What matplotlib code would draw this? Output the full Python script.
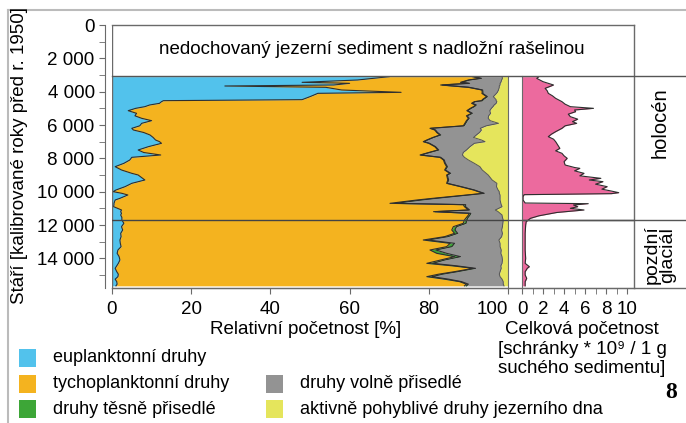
import matplotlib.pyplot as plt
import matplotlib.transforms as mtransforms
from matplotlib.patches import Rectangle
from matplotlib.ticker import MultipleLocator, FuncFormatter

plt.rcParams['font.family'] = ['Liberation Sans', 'DejaVu Sans']

# stáří vzorků [kal. roky BP] pro relativní početnost
vek = [3100, 3200, 3300, 3440, 3500, 3600, 3660, 3740, 3900, 4040,
       4100, 4300, 4480, 4540, 4600, 4700, 4800, 4900, 5000, 5140,
       5300, 5450, 5600, 5740, 5900, 6050, 6200, 6300, 6450, 6600,
       6750, 6900, 7000, 7100, 7300, 7500, 7650, 7800, 7940, 8100,
       8300, 8500, 8700, 8900, 9000, 9300, 9500, 9700, 9900, 10000,
       10100, 10200, 10400, 10500, 10700, 10780, 10900, 11100, 11200, 11300,
       11400, 11550, 11700, 11900, 12100, 12300, 12500, 12700, 12900, 13100,
       13300, 13500, 13700, 13900, 14100, 14300, 14450, 14600, 14800, 14950,
       15100, 15250, 15400, 15550, 15650]

# kumulativní hranice skupin [%]
hr_eu = [70, 66, 62, 48, 60, 56, 28.5, 54, 58, 73,
         52, 50, 48, 13, 12.5, 12, 9.5, 8.3, 6, 4.1,
         6.2, 5.8, 7.5, 10, 7.5, 7, 5, 5.4, 8, 9.6,
         10.4, 11, 12, 12.5, 9.2, 6.6, 8, 12.3, 5, 4.5,
         3, 0.8, 2.4, 5, 6.6, 8.3, 5, 3.3, 1, 0.3,
         2.5, 4, 2, 0.8, 0.5, 0.5, 0.4, 2.4, 2.2, 2.4,
         2.2, 2.5, 2.5, 3, 2.4, 2.7, 2.2, 2.3, 2, 2.1,
         2.3, 1.5, 1.3, 1.8, 2, 1.6, 1.2, 0.8, 1.2, 1.6,
         1.5, 0.8, 1.2, 1.3, 1]
hr_tycho = [91, 93, 90, 88, 90, 83, 86, 90, 93.4, 93.5,
            93.4, 94.6, 93.5, 93.4, 91.5, 90.8, 91.8, 91.3, 90.5, 89.6,
            90.8, 89.5, 90, 89.5, 89.1, 88.7, 80.3, 81.5, 82, 82.8,
            81, 79.5, 78.6, 80, 81.5, 82.3, 80, 77.8, 82.8, 83.7,
            84, 84.5, 84, 85.3, 84.5, 84.8, 84.5, 88, 91.3, 92.5,
            93.8, 89.6, 81, 77, 70.2, 88.7, 89, 90, 81.2, 90.2,
            90, 89.5, 89, 88.7, 86.2, 85.8, 86.5, 84, 78.6, 85.4,
            84.5, 80.3, 82, 86.5, 83, 79.5, 86, 91.2, 86.5, 82.5,
            79.5, 84, 87.8, 89.5, 89]
hr_tesne = [91.5, 93.3, 90.3, 88.3, 90.3, 83.4, 86.3, 90.2, 93.6, 93.7,
            93.6, 94.8, 93.7, 93.6, 91.7, 91.0, 92.0, 91.5, 90.7, 89.8,
            91.0, 89.7, 90.2, 89.7, 89.3, 88.9, 80.5, 81.7, 82.2, 83.0,
            81.2, 79.7, 78.8, 80.2, 81.7, 82.5, 80.2, 78.0, 83.0, 83.9,
            84.2, 84.7, 84.2, 85.5, 84.7, 85.0, 84.7, 88.2, 91.5, 92.7,
            94.0, 90.1, 82.0, 78.2, 71.5, 89.3, 89.3, 90.3, 81.6, 90.6,
            90.4, 89.9, 89.6, 89.4, 87.0, 86.6, 87.3, 84.8, 79.8, 86.5,
            85.8, 81.8, 84.5, 88.0, 84.0, 81.0, 87.0, 91.8, 87.3, 83.5,
            80.8, 85.0, 88.3, 90.0, 89.5]
hr_volne = [98.5, 98.6, 98.4, 98.2, 98.0, 98.0, 97.8, 97.8, 97.6, 97.3,
            97.1, 96.3, 97.0, 97.0, 97.2, 97.0, 96.5, 96.2, 95.8, 95.4,
            95.6, 95.1, 95.0, 95.5, 97.6, 94.5, 93.0, 93.3, 92.8, 92.0,
            91.3, 93.3, 94.2, 91.5, 90.4, 89.5, 88.7, 88.5, 89.0, 90.0,
            91.5, 92.9, 93.5, 94.5, 95.0, 96.0, 97.2, 97.1, 97.5, 97.8,
            97.8, 98.0, 98.0, 98.0, 98.2, 98.3, 98.5, 96.8, 97.5, 98.0,
            98.5, 98.6, 98.8, 98.7, 98.6, 98.4, 98.6, 98.4, 97.7, 98.0,
            98.0, 98.3, 98.2, 98.5, 98.6, 98.5, 98.2, 98.3, 98.0, 97.8,
            98.0, 98.5, 98.8, 98.8, 99.0]

# celková početnost [schránky * 10^9 / 1 g]
vek_celk = [3100, 3200, 3300, 3400, 3500, 3600, 3700, 3800, 3950, 4100,
            4250, 4400, 4600, 4750, 4900, 5000, 5100, 5200, 5350, 5500,
            5650, 5800, 5900, 6050, 6200, 6400, 6550, 6700, 6850, 7000,
            7200, 7400, 7550, 7700, 7850, 8000, 8200, 8400, 8550, 8600,
            8750, 8900, 9050, 9200, 9300, 9400, 9550, 9700, 9850, 9950,
            10060, 10120, 10180, 10300, 10500, 10680, 10720, 10800, 10900, 11000,
            11100, 11250, 11450, 11600, 11800, 12000, 12500, 13000, 13500, 14000,
            14300, 14500, 14600, 14800, 15000, 15200, 15400, 15650]
celk = [1.6, 1.4, 1.7, 2.0, 2.5, 3.0, 2.6, 2.2, 2.4, 2.5,
        2.9, 3.2, 3.8, 4.1, 4.6, 6.8, 5.0, 5.1, 4.4, 4.6,
        5.3, 4.8, 5.2, 4.1, 3.8, 3.2, 2.8, 2.5, 3.0, 3.2,
        3.4, 3.6, 3.2, 3.8, 4.0, 4.3, 4.0, 4.1, 5.0, 5.5,
        5.0, 5.9, 5.5, 7.5, 6.4, 7.7, 7.0, 8.1, 7.6, 8.4,
        9.2, 8.5, 0.2, 0.1, 0.1, 0.3, 6.3, 4.9, 5.3, 4.6,
        5.9, 3.3, 1.6, 0.8, 0.4, 0.35, 0.3, 0.3, 0.3, 0.35,
        0.3, 0.7, 0.5, 0.3, 0.3, 0.45, 0.3, 0.3]

hranice_zachovani = 3060   # nedochovaný sediment nad touto hranicí
hranice_holocen = 11700
vek_max = 15780

nazvy = ['euplanktonní druhy', 'tychoplanktonní druhy', 'druhy těsně přisedlé',
         'druhy volně přisedlé', 'aktivně pohyblivé druhy jezerního dna']
barvy = ['#52C2EC', '#F4B31F', '#3DA637', '#939393', '#E5E55C']
ruzova = '#EC6A9E'
obrys = '#2e2e2e'
seda = '#6a6a6a'
fs = 13.5

W, H = 686, 423
fig = plt.figure(figsize=(W / 100, H / 100), dpi=100)


def box(x0, y0, x1, y1):
    return [x0 / W, 1 - y1 / H, (x1 - x0) / W, (y1 - y0) / H]


# --- relativní početnost ---
ax = fig.add_axes(box(112, 25, 508, 288))
hranice = [[0] * len(vek), hr_eu, hr_tycho, hr_tesne, hr_volne, [100] * len(vek)]
for i in range(5):
    ax.fill_betweenx(vek, hranice[i], hranice[i + 1], color=barvy[i], lw=0)
for h in [hr_eu, hr_tycho, hr_tesne]:
    ax.plot(h, vek, color=obrys, lw=0.8)
ax.plot(hr_volne, vek, color='#555555', lw=0.7)
ax.set_xlim(0, 100)
ax.set_ylim(vek_max, 0)
ax.axvline(0, color=seda, lw=1)
ax.axhline(hranice_holocen, color='#444444', lw=1)
ax.spines['top'].set_visible(False)
ax.spines['left'].set_position(('outward', 5))
ax.spines['right'].set_bounds(hranice_zachovani, vek_max)
for s in ax.spines.values():
    s.set_color(seda)
ax.set_xticks([0, 20, 40, 60, 80, 100])
ax.yaxis.set_major_locator(MultipleLocator(2000))
ax.yaxis.set_minor_locator(MultipleLocator(1000))
ax.yaxis.set_major_formatter(FuncFormatter(lambda v, p: f'{int(v):,}'.replace(',', ' ')))
ax.tick_params(which='both', direction='out', length=4, color=seda, labelsize=fs)
ax.tick_params(axis='x', pad=5)
ax.get_xticklabels()[-1].set_horizontalalignment('right')
ax.get_xticklabels()[-1].set_x(101.5)

# --- celková početnost ---
ax2 = fig.add_axes(box(522, 25, 634.5, 288))
ax2.fill_betweenx(vek_celk, 0, celk, color=ruzova, lw=0)
ax2.plot(celk, vek_celk, color=obrys, lw=0.8)
ax2.set_xlim(0, 10.7)
ax2.set_ylim(vek_max, 0)
ax2.axhline(hranice_holocen, color='#444444', lw=1)
ax2.spines['top'].set_visible(False)
ax2.spines['right'].set_visible(False)
ax2.spines['left'].set_bounds(hranice_zachovani, vek_max)
for s in ax2.spines.values():
    s.set_color(seda)
ax2.set_yticks([])
ax2.xaxis.set_major_locator(MultipleLocator(2))
ax2.xaxis.set_minor_locator(MultipleLocator(1))
ax2.tick_params(which='both', direction='out', length=4, color=seda, labelsize=fs, pad=5)

# --- rámečky, popisky, legenda (v pixelech) ---
ov = fig.add_axes([0, 0, 1, 1])
ov.set_xlim(0, W)
ov.set_ylim(H, 0)
ov.axis('off')
tr = mtransforms.blended_transform_factory(ov.transData, ax.transData)

ov.plot([8, W], [10, 10], color='#bbbbbb', lw=1.5)
ov.plot([8, 8], [10, H], color='#bbbbbb', lw=1.5)
ov.plot([112, 634], [25, 25], color=seda, lw=1)
ov.plot([634, 634], [25, 288], color=seda, lw=1)
ov.plot([112, W], [288, 288], color=seda, lw=1)
ov.plot([112, W], [hranice_zachovani] * 2, color='#555555', lw=1, transform=tr)
ov.plot([508, W], [hranice_holocen] * 2, color='#555555', lw=1, transform=tr)

ov.text(372, 49, 'nedochovaný jezerní sediment s nadložní rašelinou',
        ha='center', va='center', fontsize=fs)
ov.text(660, 123, 'holocén', rotation=90, ha='center', va='center', fontsize=14.5)
ov.text(660, 255, 'pozdní\nglaciál', rotation=90, ha='center', va='center',
        fontsize=14, linespacing=0.9)
ov.text(20, 156, 'Stáří [kalibrované roky před r. 1950]', rotation=90,
        ha='center', va='center', fontsize=fs)
ov.text(306, 330, 'Relativní početnost [%]', ha='center', va='center', fontsize=fs)
ov.text(582, 349, 'Celková početnost\n[schránky * 10⁹ / 1 g\nsuchého sedimentu]',
        ha='center', va='center', fontsize=fs, linespacing=1.2)
ov.text(671, 392, '8', ha='center', va='center', fontsize=17,
        fontweight='bold', family='Liberation Serif')

# legenda
leg_x = [19, 19, 19, 266, 266]
leg_y = [358, 384, 409, 384, 409]
for i in range(5):
    ov.add_patch(Rectangle((leg_x[i], leg_y[i] - 9), 17, 18, color=barvy[i], lw=0))
    ov.text(leg_x[i] + 34, leg_y[i], nazvy[i], ha='left', va='center', fontsize=13)

fig.savefig('out.png', dpi=100)
